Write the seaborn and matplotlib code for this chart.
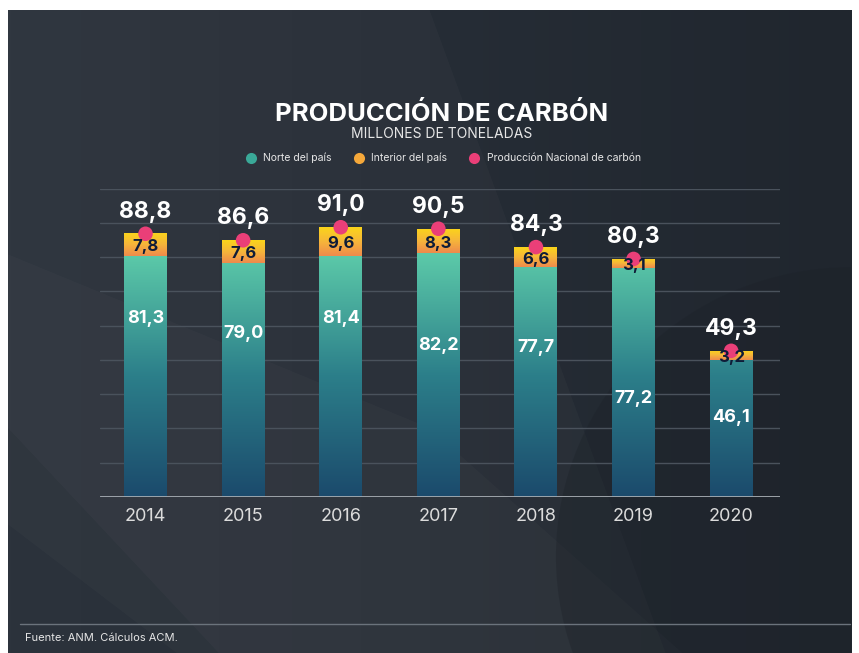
import numpy as np
import pandas as pd
import matplotlib
matplotlib.use("Agg")
import matplotlib.pyplot as plt
from matplotlib.colors import LinearSegmentedColormap
from matplotlib.lines import Line2D
from matplotlib.patches import Polygon, Ellipse
import seaborn as sns

years = ["2014", "2015", "2016", "2017", "2018", "2019", "2020"]
norte = [81.3, 79.0, 81.4, 82.2, 77.7, 77.2, 46.1]
interior = [7.8, 7.6, 9.6, 8.3, 6.6, 3.1, 3.2]
nacional = [88.8, 86.6, 91.0, 90.5, 84.3, 80.3, 49.3]

# label placement fractions within the teal bars (style)
teal_label_frac = [0.74, 0.70, 0.74, 0.62, 0.65, 0.43, 0.58]

sns.set_theme(style="dark")
plt.rcParams['font.family'] = ['Inter', 'DejaVu Sans']

fig = plt.figure(figsize=(8.59, 6.53), dpi=100)
fig.patch.set_facecolor("white")

# background panel with subtle shading
bg = fig.add_axes([8 / 859, 0, 843 / 859, 1 - 10 / 653], zorder=-5)
bg.set_axis_off()
bg.set_xlim(0, 1)
bg.set_ylim(0, 1)
bg_cmap = LinearSegmentedColormap.from_list("bg", ["#2c333c", "#262d36", "#20262e"])
bg.imshow(np.linspace(0, 1, 256).reshape(1, -1), extent=[0, 1, 0, 1],
          aspect="auto", cmap=bg_cmap, zorder=0)
bg.add_patch(Polygon([[0, 1], [0.5, 1], [0.78, 0], [0.25, 0], [0, 0.35]],
                     closed=True, facecolor="white", alpha=0.025,
                     edgecolor="none", zorder=1))
bg.add_patch(Polygon([[0, 0.62], [0.5, 0.35], [0.8, 0.0], [0.2, 0.0], [0, 0.2]],
                     closed=True, facecolor="white", alpha=0.02,
                     edgecolor="none", zorder=1))
bg.add_patch(Ellipse((1.0, 0.15), 0.7, 0.9, facecolor="#1c2128", alpha=0.35,
                     edgecolor="none", zorder=1))

ax = fig.add_axes([0.116, 0.239, 0.792, 0.472], zorder=1)
ax.set_facecolor("none")

df = pd.DataFrame({"year": years, "norte": norte, "interior": interior,
                   "nacional": nacional})
df["top"] = df["norte"] + df["interior"]

sns.barplot(data=df, x="year", y="top", ax=ax, color="#f5b035",
            width=0.44, saturation=1, zorder=2)
n_or = len(ax.patches)
sns.barplot(data=df, x="year", y="norte", ax=ax, color="#4fb9a2",
            width=0.44, saturation=1, zorder=3)

orange_patches = ax.patches[:n_or]
teal_patches = ax.patches[n_or:]

ax.set_ylim(0, 104)
ax.set_xlim(-0.47, 6.5)

teal_cmap = LinearSegmentedColormap.from_list("teal", ["#1b4a6c", "#2c7f8a", "#5ccaa9"])
or_cmap = LinearSegmentedColormap.from_list("or", ["#ef8a4c", "#f6b63a", "#fbd51a"])
grad = np.linspace(0, 1, 256).reshape(-1, 1)

for p in teal_patches:
    x0, w, h = p.get_x(), p.get_width(), p.get_height()
    im = ax.imshow(grad, extent=[x0, x0 + w, 0, 82], origin="lower",
                   aspect="auto", cmap=teal_cmap, zorder=3)
    im.set_clip_path(p)
    p.set_facecolor("none")
    p.set_edgecolor("none")

for p, n in zip(orange_patches, norte):
    x0, w, h = p.get_x(), p.get_width(), p.get_height()
    im = ax.imshow(grad, extent=[x0, x0 + w, n, h], origin="lower",
                   aspect="auto", cmap=or_cmap, zorder=2)
    im.set_clip_path(p)
    p.set_facecolor("none")
    p.set_edgecolor("none")

sns.scatterplot(data=df, x="year", y="nacional", ax=ax, color="#ea3f78",
                s=110, edgecolor="none", zorder=5, legend=False)

def fmt(v):
    return f"{v:.1f}".replace(".", ",")

for i in range(len(years)):
    ax.text(i, nacional[i] + 7.4, fmt(nacional[i]), ha="center", va="center",
            color="white", fontsize=16.5, fontweight="bold", zorder=6)
    ax.text(i, norte[i] * teal_label_frac[i], fmt(norte[i]), ha="center",
            va="center", color="white", fontsize=13, fontweight="bold", zorder=6)
    ax.text(i, norte[i] + interior[i] / 2 - 0.8, fmt(interior[i]), ha="center",
            va="center", color="#0f1c38", fontsize=12, fontweight="bold", zorder=6)

ax.set_yticks(np.linspace(0, 104, 10))
ax.set_yticklabels([])
ax.tick_params(axis="y", length=0)
ax.grid(axis="y", color="#4a525c", linewidth=1, zorder=0)
ax.grid(axis="x", visible=False)
ax.set_axisbelow(True)
ax.axhline(0, color="#a7adb3", linewidth=2, zorder=4)
for s in ax.spines.values():
    s.set_visible(False)
ax.set_xlabel("")
ax.set_ylabel("")
ax.tick_params(axis="x", colors="#dcdcdc", labelsize=13, length=0, pad=8)

fig.text(0.514, 0.826, "PRODUCCIÓN DE CARBÓN", ha="center", va="center",
         color="white", fontsize=18.5, fontweight="bold")
fig.text(0.514, 0.795, "MILLONES DE TONELADAS", ha="center", va="center",
         color="#e6e6e6", fontsize=10)

handles = [Line2D([], [], marker="o", linestyle="none", markersize=8,
                  markerfacecolor=c, markeredgecolor="none")
           for c in ["#3aa998", "#f5a83a", "#ea3f78"]]
leg = fig.legend(handles, ["Norte del país", "Interior del país",
                           "Producción Nacional de carbón"],
                 loc="center", bbox_to_anchor=(0.513, 0.758), ncol=3,
                 frameon=False, fontsize=7.5, handletextpad=0.2,
                 columnspacing=1.6, labelcolor="#e6e6e6")

fig.add_artist(Line2D([20 / 859, 850 / 859], [1 - 624 / 653, 1 - 624 / 653],
                      color="#6b737c", linewidth=1, transform=fig.transFigure))
fig.text(25 / 859, 1 - 638 / 653, "Fuente: ANM. Cálculos ACM.", ha="left",
         va="center", color="#e6e6e6", fontsize=8)

fig.savefig("out.png", dpi=100, facecolor=fig.get_facecolor())
